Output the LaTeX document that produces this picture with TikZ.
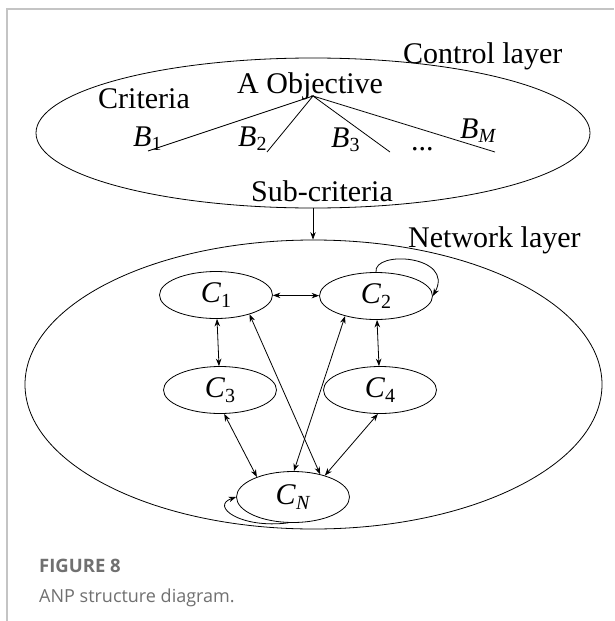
\documentclass[tikz,border=0pt]{standalone}
\usepackage{fontspec}
\setmainfont{Liberation Serif}
\newfontfamily\capfont{Open Sans}
\usetikzlibrary{arrows.meta,shapes.geometric}
\definecolor{capgray}{HTML}{707070}
\definecolor{framegray}{HTML}{C4C4C4}
\newcommand{\mylbl}[2]{\textit{#1}\raisebox{-0.35ex}{\fontsize{20}{20}\selectfont #2}}
\begin{document}
\begin{tikzpicture}[x=1pt,y=-1pt,
  every node/.style={inner sep=0pt, font=\fontsize{30}{36}\selectfont},
  lbl/.style={anchor=base west},
  layer/.style={draw, ellipse, line width=0.8pt},
  cnode/.style={draw, ellipse, line width=0.8pt, minimum width=113pt, minimum height=47pt},
  tip/.style={-{Stealth[length=7.5pt,width=5.5pt]}, line width=0.8pt},
  dbl/.style={{Stealth[length=7.5pt,width=5.5pt]}-{Stealth[length=7.5pt,width=5.5pt]}, line width=0.8pt},
  capb/.style={anchor=base west, text=capgray, font=\capfont\bfseries\fontsize{18.5}{22}\selectfont},
  capr/.style={anchor=base west, text=capgray, font=\capfont\fontsize{18}{22}\selectfont}]
\useasboundingbox (0,0) rectangle (614,621);
\fill[white] (0,0) rectangle (614,621);
\draw[framegray, line width=1.2pt] (7,621) -- (7,9) -- (614,9);

% control layer
\node[layer, minimum width=554pt, minimum height=150pt] (ctl) at (313,133) {};
\node[lbl] (ctltxt) at (403,63) {Control layer};
\node[lbl] (obj) at (237,93) {A Objective};
\node[lbl] (crit) at (98,108) {Criteria};
\coordinate (apex) at (313,96);
\coordinate (e1) at (148,151);
\coordinate (e2) at (267,152);
\coordinate (e3) at (390,152);
\coordinate (e4) at (495,152);
\draw[line width=0.8pt] (e1) -- (apex) -- (e2);
\draw[line width=0.8pt] (e3) -- (apex) -- (e4);
\node[lbl] (b1) at (133,146) {\mylbl{B}{1}};
\node[lbl] (b2) at (238,146) {\mylbl{B}{2}};
\node[lbl] (b3) at (331,147) {\mylbl{B}{3}};
\node[lbl] (dots) at (411,150) {...};
\node[lbl] (bm) at (460,138) {\mylbl{B}{\textit{M}}};
\node[lbl] (sub) at (251,201) {Sub-criteria};

% network layer
\node[layer, minimum width=577pt, minimum height=289pt] (netw) at (313.5,384.5) {};
\node[lbl] (nettxt) at (408,247) {Network layer};
\coordinate (subbot) at (313,208);
\draw[tip] (subbot) -- (subbot |- netw.north);

\node[cnode] (c1) at (216,295) {\mylbl{C}{1}};
\node[cnode] (c2) at (376,296) {\mylbl{C}{2}};
\node[cnode] (c3) at (220,390) {\mylbl{C}{3}};
\node[cnode] (c4) at (380,390) {\mylbl{C}{4}};
\node[cnode, minimum height=51pt] (cn) at (293,497) {\mylbl{C}{\textit{N}}};

\draw[dbl] (c1) -- (c2);
\draw[dbl] (c1) -- (c3);
\draw[dbl] (c2) -- (c4);
\draw[dbl] (c1.-30) -- (cn.40);
\draw[dbl] (c2.-147) -- (cn.88);
\draw[dbl] (c3.-80) -- (cn.151);
\draw[dbl] (c4.-95) -- (cn.34);
\draw[tip] (c2.north) .. controls (373,250) and (455,255) .. (c2.east);
\draw[tip] (cn.-100) .. controls (240,529) and (210,506) .. (cn.west);

% caption
\node[capb] (fig) at (39,572) {FIGURE 8};
\node[capr] (capt) at (39,602) {ANP structure diagram.};
\end{tikzpicture}
\end{document}
